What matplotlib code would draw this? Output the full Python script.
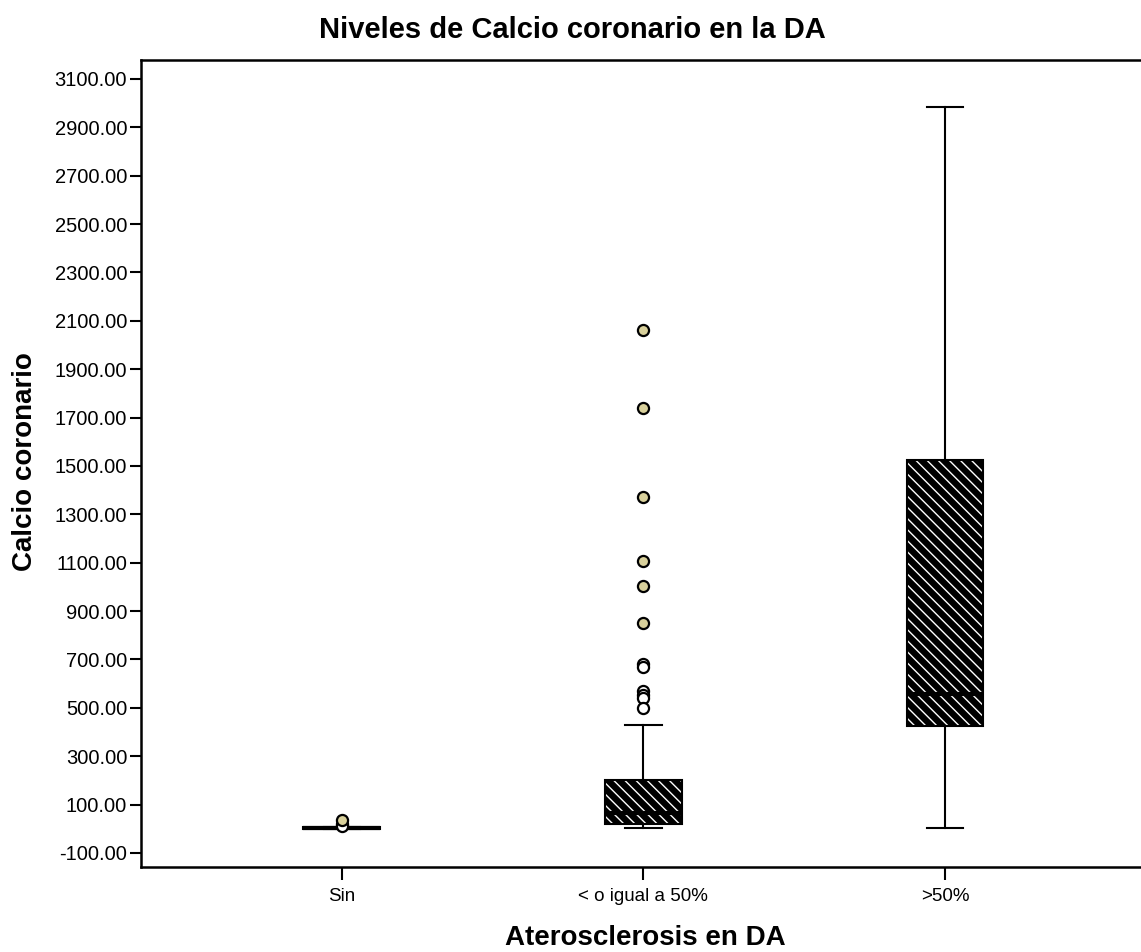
import matplotlib
matplotlib.use("Agg")
import matplotlib.pyplot as plt
import numpy as np

plt.rcParams['font.family'] = ['Liberation Sans', 'DejaVu Sans']
plt.rcParams['hatch.linewidth'] = 1.0

# data
groups = ["Sin", "< o igual a 50%", ">50%"]
q1 = [0, 21, 426]
median = [3, 67, 558]
q3 = [6, 203, 1525]
whis_low = [0, 5, 5]
whis_high = [8, 427, 2985]
outliers_open = [[18, 12], [680, 668, 570, 552, 540, 500], []]
outliers_filled = [[38], [2060, 1741, 1370, 1106, 1005, 850], []]
yticks = list(range(-100, 3101, 200))

stats = []
for i, g in enumerate(groups):
    stats.append({
        "label": g, "q1": q1[i], "med": median[i], "q3": q3[i],
        "whislo": whis_low[i], "whishi": whis_high[i], "fliers": [],
    })

fig = plt.figure(figsize=(11.41, 9.52), dpi=100)
ax = fig.add_axes([141 / 1141, 85 / 952, 1000 / 1141, 807 / 952])

pos = np.arange(len(groups))
width = 0.255

# hatched fill (black with white stripes)
ax.bxp(stats, positions=pos, widths=width, patch_artist=True, showfliers=False,
       boxprops=dict(facecolor="black", edgecolor="white", hatch="\\\\\\", linewidth=0),
       medianprops=dict(color="black", linewidth=0),
       whiskerprops=dict(linewidth=0), capprops=dict(linewidth=0))
# outlines, whiskers, caps
ax.bxp(stats, positions=pos, widths=width, patch_artist=True, showfliers=False,
       boxprops=dict(facecolor="none", edgecolor="black", linewidth=1.5),
       medianprops=dict(color="black", linewidth=3, solid_capstyle="butt"),
       whiskerprops=dict(color="black", linewidth=1.5),
       capprops=dict(color="black", linewidth=1.5), capwidths=0.12)

for i in range(len(groups)):
    ax.plot([pos[i]] * len(outliers_open[i]), outliers_open[i], "o", ms=8,
            mfc="white", mec="black", mew=1.6, zorder=4)
    ax.plot([pos[i]] * len(outliers_filled[i]), outliers_filled[i], "o", ms=8,
            mfc="#d9d19c", mec="black", mew=1.6, zorder=5)

ax.set_xlim(-0.666, 2.65)
ax.set_ylim(-158, 3178)
ax.set_yticks(yticks)
ax.set_yticklabels([f"{v:.2f}" for v in yticks])
ax.set_xticks(pos)
ax.set_xticklabels(groups)
ax.tick_params(axis="y", length=8, width=1.5, labelsize=14.5, pad=2)
ax.tick_params(axis="x", length=9, width=1.5, labelsize=13.5, pad=6)
ax.spines["right"].set_visible(False)
for s in ["left", "top", "bottom"]:
    ax.spines[s].set_linewidth(1.8)

fig.text(572 / 1141, 1 - 30 / 952, "Niveles de Calcio coronario en la DA",
         ha="center", va="center", fontsize=21, fontweight="bold")
fig.text(25 / 1141, 1 - 462 / 952, "Calcio coronario", ha="center", va="center",
         rotation=90, fontsize=20, fontweight="bold")
fig.text(645 / 1141, 1 - 938 / 952, "Aterosclerosis en DA", ha="center",
         va="center", fontsize=20, fontweight="bold")

fig.savefig("out.png", dpi=100)
